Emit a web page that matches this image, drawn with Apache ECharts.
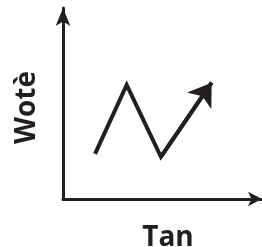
<!DOCTYPE html>
<html><head><meta charset="utf-8">
<script src="https://cdn.jsdelivr.net/npm/echarts@6/dist/echarts.min.js"></script>
<style>html,body{margin:0;padding:0;background:#fff}#c{width:262px;height:247px}</style>
</head><body><div id="c"></div>
<script>
var xName = 'Tan';
var yName = 'Wotè';
var xValues = [1.61, 3.2, 4.92, 7.47];
var yValues = [2.36, 5.97, 2.21, 6.09];

var coords = xValues.map(function (x, i) { return [x, yValues[i]]; });
var n = coords.length;
var ink = '#231f20';
var chart = echarts.init(document.getElementById('c'), null, { renderer: 'canvas' });
chart.setOption({
  animation: false,
  grid: { left: 63, right: 0, top: 8, bottom: 48, containLabel: false, outerBoundsMode: 'none' },
  xAxis: {
    type: 'value', min: 0, max: 10,
    name: xName, nameLocation: 'middle', nameGap: 25,
    nameTextStyle: { fontFamily: 'Open Sans', fontWeight: 'bold', fontSize: 28, color: ink, padding: [0, 0, 0, 11] },
    axisLine: { show: true, symbol: ['none', 'arrow'], symbolSize: [11, 14], lineStyle: { color: ink, width: 3 } },
    axisTick: { show: false }, axisLabel: { show: false }, splitLine: { show: false }
  },
  yAxis: {
    type: 'value', min: 0, max: 10,
    name: yName, nameLocation: 'middle', nameGap: 22,
    nameTextStyle: { fontFamily: 'Open Sans', fontWeight: 'bold', fontSize: 28, color: ink, padding: [0, 8, 0, 0] },
    axisLine: { show: true, symbol: ['none', 'arrow'], symbolSize: [11, 18], lineStyle: { color: ink, width: 3 } },
    axisTick: { show: false }, axisLabel: { show: false }, splitLine: { show: false }
  },
  series: [{
    type: 'lines',
    coordinateSystem: 'cartesian2d',
    polyline: true,
    lineStyle: { color: ink, width: 4, opacity: 1, join: 'miter' },
    data: [{ coords: coords }]
  }, {
    type: 'lines',
    coordinateSystem: 'cartesian2d',
    polyline: false,
    symbol: ['none', 'arrow'],
    symbolSize: [17, 22],
    lineStyle: { color: ink, width: 4, opacity: 1 },
    data: [{ coords: [coords[n - 2], coords[n - 1]] }]
  }]
});
</script></body></html>
